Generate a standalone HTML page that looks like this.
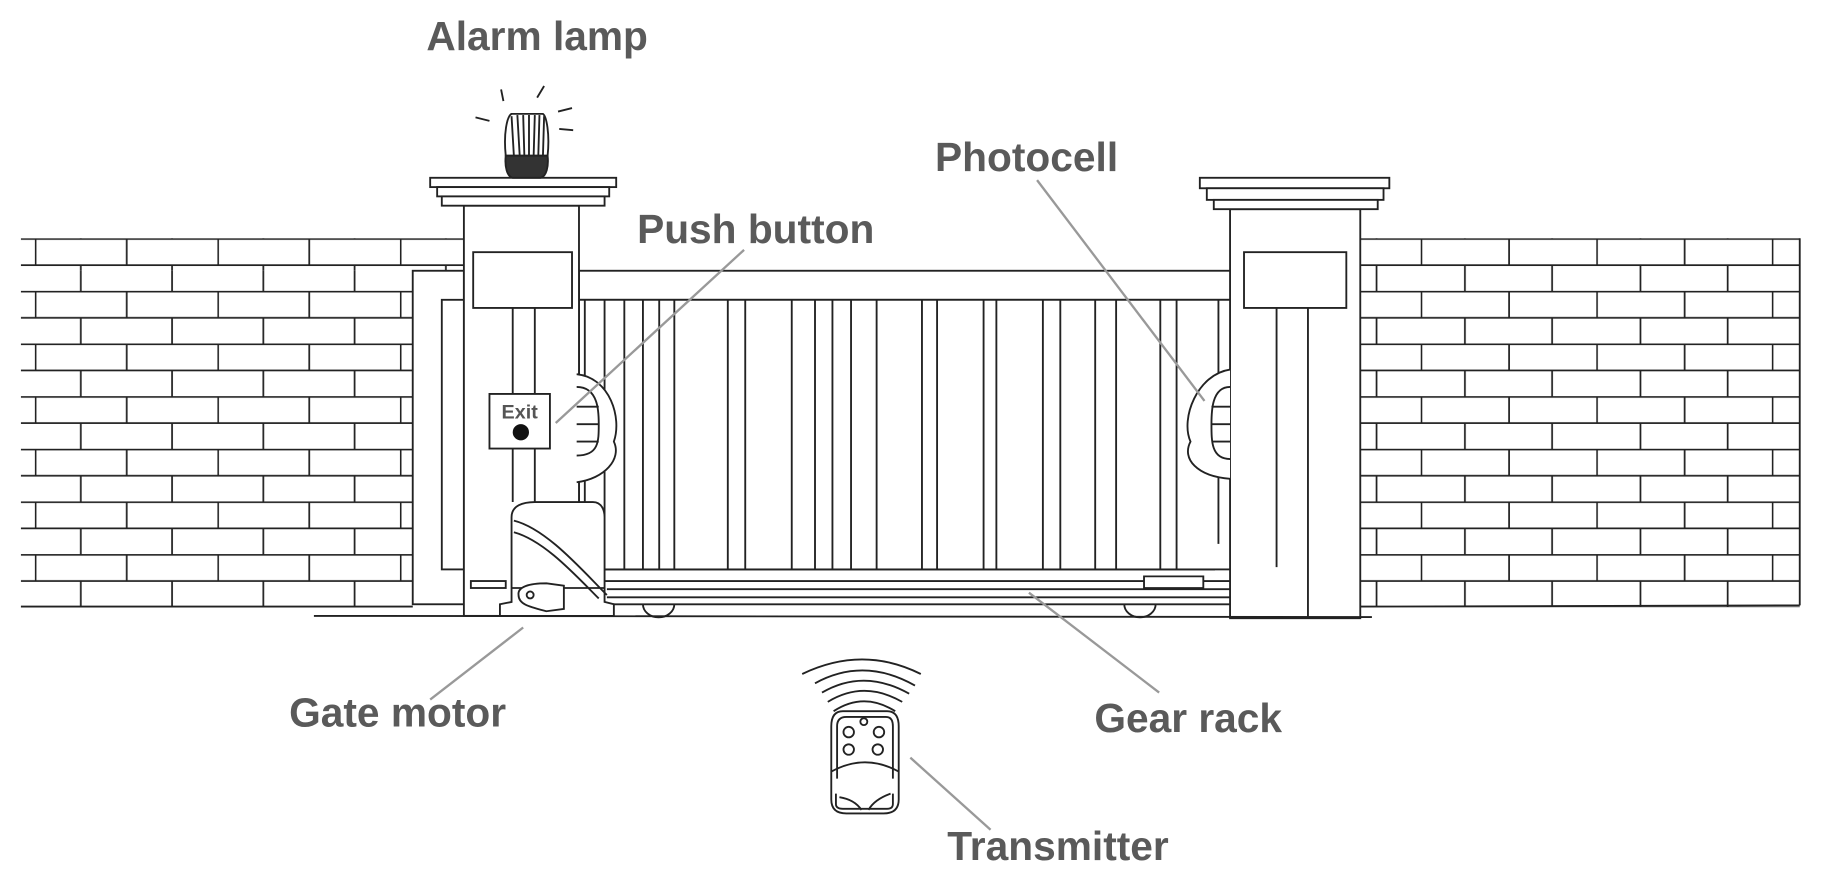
<!DOCTYPE html>
<html><head><meta charset="utf-8"><style>
html,body{margin:0;padding:0;background:#fff;}
svg{display:block;}
text{font-family:"Liberation Sans",sans-serif;font-weight:bold;fill:#5a5a5a;font-size:35px;}
</style></head><body>
<svg width="1823" height="882" viewBox="0 0 1568 759" preserveAspectRatio="none" xmlns="http://www.w3.org/2000/svg">
<defs>
<pattern id="brL" patternUnits="userSpaceOnUse" x="30" y="205" width="157" height="45.3">
<path d="M0 0.6H157M0 23.2H157M0.6 0V22.6M79 0V22.6M39.5 22.6V45.3M118 22.6V45.3" stroke="#222" stroke-width="1.5" fill="none"/>
</pattern>
<pattern id="brR" patternUnits="userSpaceOnUse" x="1222" y="205" width="151" height="45.3">
<path d="M0 0.6H151M0 23.2H151M0.6 0V22.6M76 0V22.6M-38 22.6V45.3M38 22.6V45.3M113 22.6V45.3" stroke="#222" stroke-width="1.5" fill="none"/>
</pattern>
</defs>
<g stroke="#222" stroke-width="1.6" fill="none">
<rect x="18" y="205" width="381" height="28" fill="url(#brL)" stroke="none"/>
<rect x="18" y="233" width="337" height="289.5" fill="url(#brL)" stroke="none"/>
<line x1="18" y1="522" x2="355" y2="522"/>
<rect x="1170" y="205" width="378" height="317.5" fill="url(#brR)" stroke="none"/>
<line x1="1170" y1="522" x2="1548" y2="521"/>
<line x1="1548" y1="205" x2="1548" y2="521"/>
<rect x="355" y="233" width="44" height="287" fill="#fff"/>
<rect x="380" y="258" width="19" height="232" fill="#fff"/>
<rect x="498" y="233" width="572" height="25" fill="#fff"/>
<rect x="498" y="258" width="567" height="232" fill="#fff"/>
<path d="M503 258V490M520 258V490M537 258V490M553 258V490M567 258V490M580 258V490M626 258V490M641 258V490M681 258V490M701 258V490M716 258V490M732 258V490M754 258V490M793 258V490M806 258V490M846 258V490M857 258V490M897 258V490M912 258V490M942 258V490M960 258V490M998 258V490M1012 258V490M1048 258V468"/>
<path d="M520 490H1045M520 500H1065M522 507H1065M522 514H1065M520 520H1065"/>
<path d="M984 496H1035V506H984Z" fill="#fff"/>
<path d="M553 520A12 10 0 0 0 580 520M967 520A12 10 0 0 0 994 520"/>
<rect x="399" y="177" width="99" height="353" fill="#fff"/>
<rect x="370" y="153" width="160" height="8" fill="#fff"/>
<rect x="376" y="161" width="148" height="8" fill="#fff"/>
<rect x="380" y="169" width="140" height="8" fill="#fff"/>
<rect x="407" y="217" width="85" height="48" fill="#fff"/>
<path d="M441 265V432M460 265V432"/>
<rect x="1058" y="180" width="112" height="352" fill="#fff"/>
<rect x="1032" y="153" width="163" height="9" fill="#fff"/>
<rect x="1038" y="162" width="152" height="10" fill="#fff"/>
<rect x="1044" y="172" width="141" height="8" fill="#fff"/>
<rect x="1070" y="217" width="88" height="48" fill="#fff"/>
<path d="M1098 265V488M1125 265V532"/>
<line x1="270" y1="530" x2="1180" y2="531"/>
<rect x="405" y="500" width="30" height="6" fill="#fff"/>
<path d="M496 322C525 325 535 360 528 380C535 395 520 412 496 415" fill="#fff"/>
<path d="M496 333C515 333 515 355 515 365C515 380 515 392 496 392M496 350H515M496 365H515M496 380H515"/>
<path d="M1058 318C1030 322 1015 360 1024 380C1016 395 1030 410 1058 412" fill="#fff"/>
<path d="M1058 333C1042 333 1042 355 1042 365C1042 380 1042 395 1058 395M1042 350H1058M1042 365H1058M1042 380H1058"/>
<rect x="421" y="339" width="52" height="47" fill="#fff"/>
<path d="M430 530V520L440 518V445C440 435 450 432 460 432H510C518 432 520 440 520 445V518L528 520V530Z" fill="#fff"/>
<path d="M442 448C470 455 500 490 522 512M442 458C468 465 495 495 515 515M440 506H520"/>
<path d="M446 512C445 505 455 502 470 502L485 504V524L470 526C455 522 446 520 446 512Z" fill="#fff"/>
<circle cx="456" cy="512" r="3"/>
<path d="M435 134C433 115 436 100 440 98H467C470 100 473 115 471 134Z" fill="#fff"/>
<path d="M440 100L442 134M445 99L447 134M450 99L451 134M455 99L455 134M460 99L459 134M464 99L463 134M468 100L467 134"/>
<path d="M435 134H471C472 143 470 152 465 153H441C436 152 434 143 435 134Z" fill="#333"/>
<path d="M409 101L421 104M431 77L433 87M468 74L462 84M480 96L492 93M481 111L493 112"/>
<path d="M725 612H763Q773 612 773 625V688Q773 700 760 700H728Q715 700 715 688V625Q715 612 725 612Z"/>
<path d="M720 670V625Q720 617 728 617H762Q768 617 768 625V670"/>
<path d="M715 664Q744 648 773 664"/>
<path d="M719 683V692Q719 696 725 696H763Q768 696 768 692V683M722 686Q735 688 741 697M766 683Q752 688 747 697"/>
<circle cx="743" cy="621" r="3"/><circle cx="730" cy="630" r="4.5"/><circle cx="756" cy="630" r="4.5"/><circle cx="730" cy="645" r="4.5"/><circle cx="755" cy="645" r="4.5"/>
<path d="M717 612Q743 595 770 612M712 604Q743 585 776 604M707 596Q743 575 782 597M701 588Q743 565 787 590M690 580Q742 555 792 580"/>
</g>
<circle cx="448" cy="372" r="7" fill="#111"/>
<text x="447" y="360" text-anchor="middle" style="font-size:17px;fill:#555">Exit</text>
<g stroke="#999" stroke-width="2">
<line x1="640" y1="215" x2="478" y2="364"/>
<line x1="892" y1="155" x2="1036" y2="345"/>
<line x1="450" y1="540" x2="370" y2="602"/>
<line x1="885" y1="510" x2="997" y2="596"/>
<line x1="783" y1="652" x2="852" y2="714"/>
</g>
<text x="462" y="43" text-anchor="middle">Alarm lamp</text>
<text x="883" y="147" text-anchor="middle">Photocell</text>
<text x="650" y="209" text-anchor="middle">Push button</text>
<text x="342" y="625" text-anchor="middle">Gate motor</text>
<text x="1022" y="630" text-anchor="middle">Gear rack</text>
<text x="910" y="740" text-anchor="middle">Transmitter</text>
</svg>
</body></html>
